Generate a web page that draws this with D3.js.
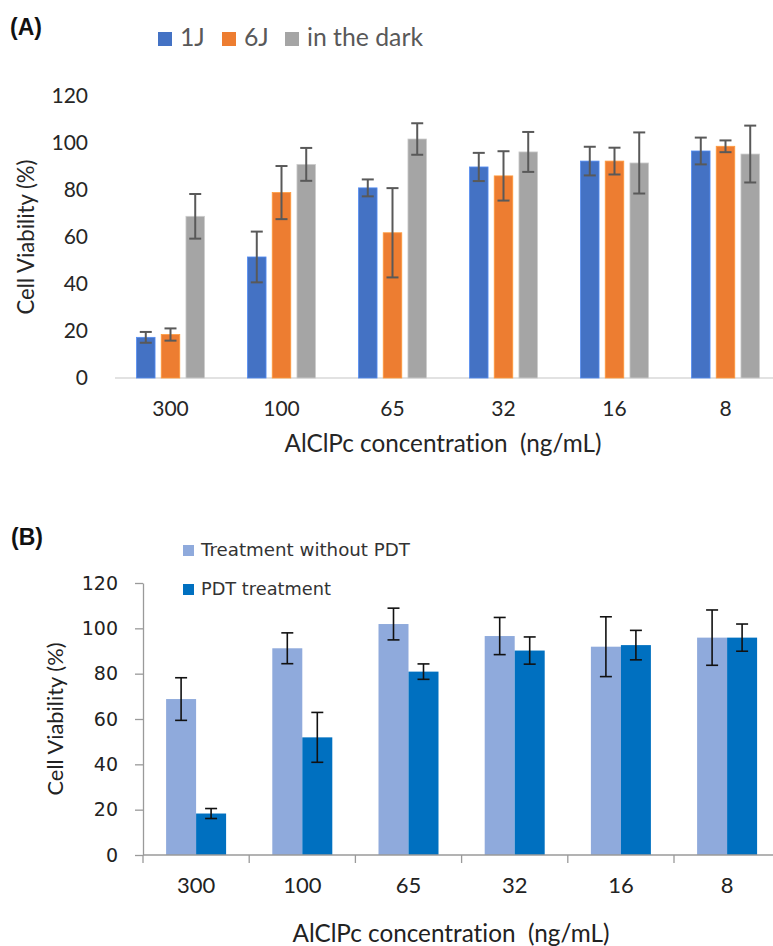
<!DOCTYPE html>
<html><head><meta charset="utf-8">
<script src="https://cdn.jsdelivr.net/npm/d3@7/dist/d3.min.js"></script>
<style>
html,body{margin:0;padding:0;background:#fff;}
svg{display:block;}
svg text{font-variant-ligatures:none;font-feature-settings:"liga" 0;white-space:pre;}
</style></head>
<body>
<svg id="chart" width="773" height="946"></svg>
<script>
// ---------- DATA ----------
const categories = ["300", "100", "65", "32", "16", "8"];
const yTicks = [0, 20, 40, 60, 80, 100, 120];

// Panel A
const seriesA = ["1J", "6J", "in the dark"];
const valA1J   = [17.3, 51.5, 80.9, 89.8, 92.3, 96.6];
const errA1J   = [2.3, 10.8, 3.6, 6.0, 6.1, 5.7];
const valA6J   = [18.5, 78.9, 61.8, 86.0, 92.3, 98.6];
const errA6J   = [2.6, 11.3, 19.0, 10.5, 5.7, 2.5];
const valADark = [68.8, 90.9, 101.7, 96.2, 91.5, 95.3];
const errADark = [9.5, 7.0, 6.7, 8.5, 13.0, 12.1];

// Panel B
const seriesB = ["Treatment without PDT", "PDT treatment"];
const valBNoPDT = [68.8, 91.2, 101.9, 96.6, 91.9, 95.9];
const errBNoPDT = [9.4, 6.8, 7.0, 8.2, 13.2, 12.2];
const valBPDT   = [18.3, 51.9, 80.9, 90.2, 92.6, 95.9];
const errBPDT   = [2.2, 11.0, 3.4, 6.0, 6.5, 6.0];

const xTitle = "AlClPc concentration  (ng/mL)";
const yTitle = "Cell Viability (%)";

// ---------- HELPERS ----------
const svg = d3.select("#chart");
function fit(sel, target) {
  const n = sel.node();
  const fs = parseFloat(sel.attr("font-size"));
  const w = n.getComputedTextLength();
  if (w > 0) sel.attr("font-size", (fs * target / w).toFixed(2));
  return sel;
}

// ---------- PANEL A ----------
(function () {
  const colors = ["#4472C4", "#ED7D31", "#A5A5A5"];
  const vals = [valA1J, valA6J, valADark];
  const errs = [errA1J, errA6J, errADark];
  const font = "Lato, 'Open Sans', sans-serif";
  const x0 = d3.scaleBand().domain(categories).range([115, 115 + 111 * categories.length]).padding(0);
  const x1 = d3.scaleBand().domain(seriesA).range([0, 68]).paddingInner(0.25);
  const y = d3.scaleLinear().domain([0, 120]).range([378, 96]);
  const g = svg.append("g");

  g.append("text").attr("x", 10).attr("y", 35).attr("font-family", "'Liberation Sans', Arial, sans-serif")
    .attr("font-weight", "bold").attr("font-size", 23).attr("fill", "#111").text("(A)");

  g.append("line").attr("x1", 115).attr("x2", 773).attr("y1", y(0)).attr("y2", y(0))
    .attr("stroke", "#D9D9D9").attr("stroke-width", 1.5);

  const ya = g.append("g").attr("transform", "translate(115,0)")
    .call(d3.axisLeft(y).tickValues(yTicks).tickSize(0).tickPadding(27));
  ya.select(".domain").remove();
  ya.selectAll("text").attr("font-family", font).attr("font-size", 21).attr("fill", "#262626");

  const xa = g.append("g").attr("transform", `translate(0,${y(0)})`)
    .call(d3.axisBottom(x0).tickSize(0).tickPadding(23));
  xa.select(".domain").remove();
  xa.selectAll("text").attr("font-family", font).attr("font-size", 21).attr("fill", "#262626");

  seriesA.forEach((s, si) => {
    g.append("g").selectAll("rect").data(categories).join("rect")
      .attr("x", d => x0(d) + x0.bandwidth() / 2 - 34 + x1(s))
      .attr("width", x1.bandwidth())
      .attr("y", (d, i) => y(vals[si][i]))
      .attr("height", (d, i) => y(0) - y(vals[si][i]))
      .attr("fill", colors[si])
      .attr("stroke", d3.color(colors[si]).brighter(0.6)).attr("stroke-width", 0.8);
    const eg = g.append("g").attr("stroke", "#595959").attr("stroke-width", 2).attr("fill", "none");
    categories.forEach((d, i) => {
      const cx = x0(d) + x0.bandwidth() / 2 - 34 + x1(s) + x1.bandwidth() / 2;
      const hi = y(vals[si][i] + errs[si][i]), lo = y(vals[si][i] - errs[si][i]);
      eg.append("line").attr("x1", cx).attr("x2", cx).attr("y1", hi).attr("y2", lo);
      eg.append("line").attr("x1", cx - 6).attr("x2", cx + 6).attr("y1", hi).attr("y2", hi);
      eg.append("line").attr("x1", cx - 6).attr("x2", cx + 6).attr("y1", lo).attr("y2", lo);
    });
  });

  fit(g.append("text").attr("x", 443).attr("y", 452).attr("text-anchor", "middle")
    .attr("font-family", font).attr("font-size", 21).attr("fill", "#262626").text(xTitle), 317);
  fit(g.append("text").attr("transform", "translate(34,237) rotate(-90)").attr("text-anchor", "middle")
    .attr("font-family", font).attr("font-size", 20).attr("fill", "#262626").text(yTitle), 155);

  const legX = [158, 222, 285];
  const legTexts = seriesA.map((s, si) => {
    g.append("rect").attr("x", legX[si]).attr("y", 32).attr("width", 14).attr("height", 14).attr("fill", colors[si]);
    return g.append("text").attr("x", legX[si] + 22).attr("y", 46).attr("font-family", font)
      .attr("font-size", 20).attr("fill", "#595959").text(s);
  });
  fit(legTexts[2], 116);
  const lfs = legTexts[2].attr("font-size");
  legTexts.forEach(t => t.attr("font-size", lfs));
})();

// ---------- PANEL B ----------
(function () {
  const colors = ["#8FAADC", "#0070C0"];
  const vals = [valBNoPDT, valBPDT];
  const errs = [errBNoPDT, errBPDT];
  const font = "'DejaVu Sans', Verdana, sans-serif";
  const lfont = "Lato, 'Open Sans', sans-serif";
  const step = 106.2;
  const x0 = d3.scaleBand().domain(categories).range([143, 143 + step * categories.length]).padding(0);
  const x1 = d3.scaleBand().domain(seriesB).range([0, 60]).padding(0);
  const y = d3.scaleLinear().domain([0, 120]).range([855, 583]);
  const g = svg.append("g");

  g.append("text").attr("x", 11).attr("y", 545).attr("font-family", "'Liberation Sans', Arial, sans-serif")
    .attr("font-weight", "bold").attr("font-size", 23).attr("fill", "#111").text("(B)");

  seriesB.forEach((s, si) => {
    g.append("g").selectAll("rect").data(categories).join("rect")
      .attr("x", d => x0(d) + x0.bandwidth() / 2 - 30 + x1(s))
      .attr("width", x1.bandwidth())
      .attr("y", (d, i) => y(vals[si][i]))
      .attr("height", (d, i) => y(0) - y(vals[si][i]))
      .attr("fill", colors[si]);
  });
  seriesB.forEach((s, si) => {
    const eg = g.append("g").attr("stroke", "#111").attr("stroke-width", 1.6).attr("fill", "none");
    categories.forEach((d, i) => {
      const cx = x0(d) + x0.bandwidth() / 2 - 30 + x1(s) + x1.bandwidth() / 2;
      const hi = y(vals[si][i] + errs[si][i]), lo = y(vals[si][i] - errs[si][i]);
      eg.append("line").attr("x1", cx).attr("x2", cx).attr("y1", hi).attr("y2", lo);
      eg.append("line").attr("x1", cx - 6).attr("x2", cx + 6).attr("y1", hi).attr("y2", hi);
      eg.append("line").attr("x1", cx - 6).attr("x2", cx + 6).attr("y1", lo).attr("y2", lo);
    });
  });

  const ya = g.append("g").attr("transform", "translate(143,0)")
    .call(d3.axisLeft(y).tickValues(yTicks).tickSize(8).tickSizeOuter(0).tickPadding(17));
  ya.select(".domain").attr("stroke", "#9A9A9A").attr("stroke-width", 1.3);
  ya.selectAll(".tick line").attr("stroke", "#9A9A9A").attr("stroke-width", 1.3);
  ya.selectAll("text").attr("font-family", font).attr("font-size", 19).attr("fill", "#222");

  g.append("line").attr("x1", 143).attr("x2", 773).attr("y1", y(0)).attr("y2", y(0))
    .attr("stroke", "#9A9A9A").attr("stroke-width", 1.3);
  const bounds = categories.map(d => x0(d)).concat([x0.range()[1]]).filter(v => v <= 773);
  g.append("g").selectAll("line").data(bounds).join("line")
    .attr("x1", d => d).attr("x2", d => d).attr("y1", y(0)).attr("y2", y(0) + 8)
    .attr("stroke", "#9A9A9A").attr("stroke-width", 1.3);
  const xa = g.append("g").attr("transform", `translate(0,${y(0)})`)
    .call(d3.axisBottom(x0).tickSize(0).tickPadding(22));
  xa.select(".domain").remove();
  xa.selectAll("text").attr("font-family", lfont).attr("font-size", 22).attr("fill", "#222");

  fit(g.append("text").attr("x", 451).attr("y", 942).attr("text-anchor", "middle")
    .attr("font-family", lfont).attr("font-size", 21).attr("fill", "#222").text(xTitle), 317);
  fit(g.append("text").attr("transform", "translate(63,719) rotate(-90)").attr("text-anchor", "middle")
    .attr("font-family", lfont).attr("font-size", 20).attr("fill", "#222").text(yTitle), 153);

  const legY = [545, 584];
  const legW = [209, 130];
  seriesB.forEach((s, si) => {
    g.append("rect").attr("x", 183).attr("y", legY[si]).attr("width", 11).attr("height", 11).attr("fill", colors[si]);
    fit(g.append("text").attr("x", 201).attr("y", legY[si] + 11).attr("font-family", font)
      .attr("font-size", 14).attr("fill", "#333").text(s), legW[si]);
  });
})();
</script>
</body></html>
